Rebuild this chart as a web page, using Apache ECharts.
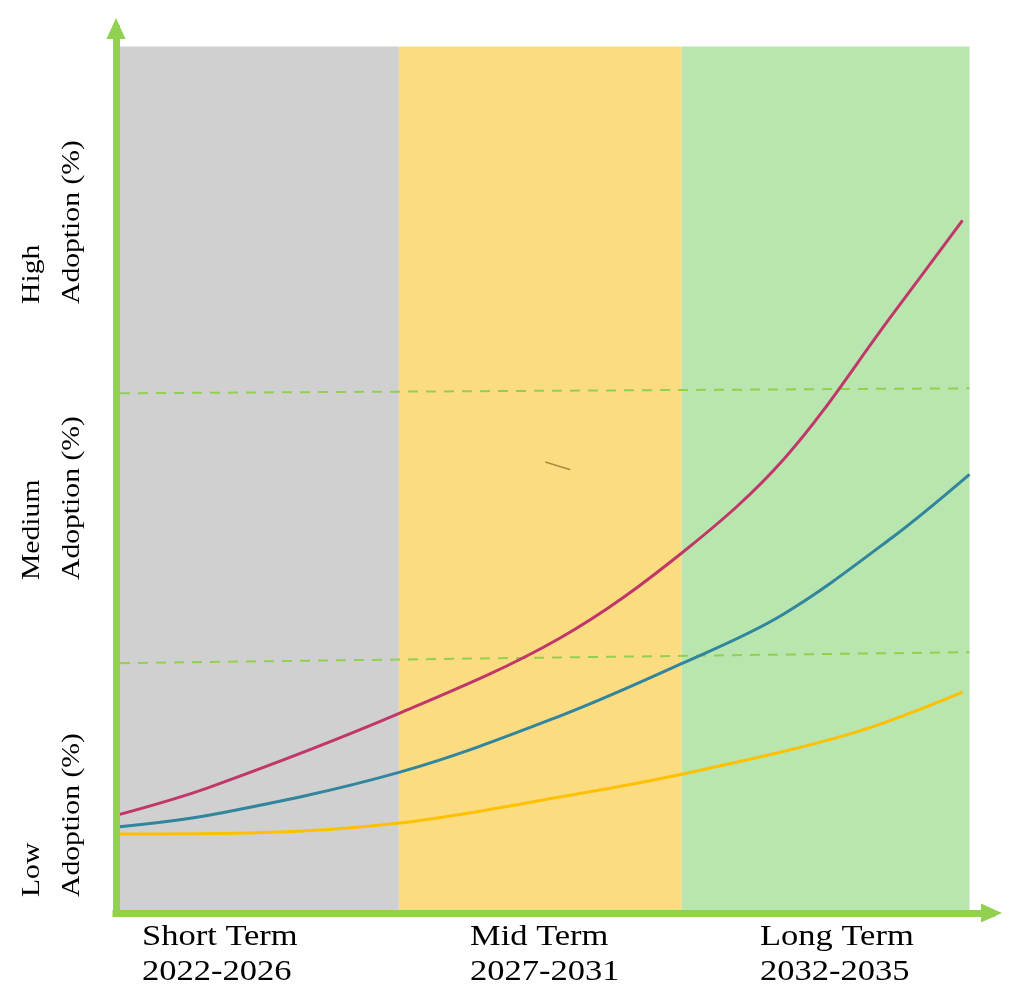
<!DOCTYPE html>
<html>
<head>
<meta charset="utf-8">
<script src="https://cdn.jsdelivr.net/npm/echarts@6/dist/echarts.min.js"></script>
<style>
html,body{margin:0;padding:0;background:#fff;}
#chart{width:1024px;height:1008px;}
</style>
</head>
<body>
<div id="chart"></div>
<script>
// ---- data (x: 0-100 timeline across the three terms, y: adoption level 0-100) ----
var termLabels = ['Short Term\n2022-2026', 'Mid Term\n2027-2031', 'Long Term\n2032-2035'];
var adoptionLabels = ['Low\nAdoption (%)', 'Medium\nAdoption (%)', 'High\nAdoption (%)'];
var termEdges = [0, 32.31, 64.61, 97.49];
var bandTop = 97.97;

var highX = [0.11, 10.73, 32.42, 50.68, 64.73, 76.37, 88.70, 96.69];
var highY = [11.07, 14.24, 22.60, 31.07, 40.79, 51.41, 67.68, 78.31];

var midX = [0.11, 10.73, 32.42, 50.68, 64.73, 76.03, 88.70, 97.49];
var midY = [9.72, 11.07, 15.93, 22.26, 28.25, 33.67, 42.49, 49.60];

var lowX = [0.11, 15.30, 32.42, 50.68, 64.73, 84.13, 96.69];
var lowY = [8.93, 9.04, 10.17, 13.11, 15.71, 20.34, 24.97];

var upperThresholdX = [0.46, 97.49];
var upperThresholdY = [58.76, 59.32];
var lowerThresholdX = [0.46, 97.49];
var lowerThresholdY = [28.25, 29.49];

var strayX = [49.04, 51.89];
var strayY = [50.99, 50.12];

function pairs(xs, ys) { return xs.map(function (x, i) { return [x, ys[i]]; }); }

var bandColors = ['#d0d0d0', '#fcdc80', '#b9e5ae'];
var GREEN = '#92d050';
var SERIF = '"Liberation Serif", "Times New Roman", serif';

var chart = echarts.init(document.getElementById('chart'), null, {renderer: 'canvas'});

var areas = [];
for (var i = 0; i < 3; i++) {
  areas.push([
    {xAxis: termEdges[i], yAxis: 0, itemStyle: {color: bandColors[i], opacity: 1}},
    {xAxis: termEdges[i + 1], yAxis: bandTop}
  ]);
}

var axisCommon = {
  type: 'value', min: 0, max: 100, z: 10,
  axisLine: {show: true, symbol: ['none', 'triangle'], symbolSize: [19, 21],
    lineStyle: {color: GREEN, width: 7, cap: 'square'}},
  axisTick: {show: false}, axisLabel: {show: false}, splitLine: {show: false}
};

var graphics = [];
var xLabelLeft = [142, 470, 760];
termLabels.forEach(function (t, i) {
  graphics.push({type: 'text', x: xLabelLeft[i], y: 920, scaleX: 1.15, z: 20,
    style: {text: t, font: '30px ' + SERIF, fill: '#000', lineHeight: 35, textAlign: 'left', textVerticalAlign: 'top'}});
});
var yLabelBottom = [897, 580, 304];
adoptionLabels.forEach(function (t, i) {
  graphics.push({type: 'text', x: 12, y: yLabelBottom[i], rotation: Math.PI / 2, scaleX: 1.14, z: 20,
    style: {text: t, font: '26px ' + SERIF, fill: '#000', lineHeight: 40, textAlign: 'left', textVerticalAlign: 'top'}});
});

var option = {
  backgroundColor: '#ffffff',
  animation: false,
  grid: {left: 116, right: 32.5, top: 28.5, bottom: 95, outerBoundsMode: 'none', containLabel: false},
  xAxis: axisCommon,
  yAxis: echarts.util.merge({}, axisCommon),
  graphic: graphics,
  series: [
    {type: 'line', name: 'bands', data: [], silent: true, z: 1,
      markArea: {silent: true, z: 1, data: areas}},
    {type: 'line', name: 'upper', data: pairs(upperThresholdX, upperThresholdY), symbol: 'none', z: 3,
      lineStyle: {color: GREEN, width: 2, type: [10, 8]}},
    {type: 'line', name: 'lower', data: pairs(lowerThresholdX, lowerThresholdY), symbol: 'none', z: 3,
      lineStyle: {color: GREEN, width: 2, type: [10, 8]}},
    {type: 'line', name: 'Low', data: pairs(lowX, lowY), symbol: 'none', smooth: 0.35, z: 4,
      lineStyle: {color: '#ffc000', width: 3}},
    {type: 'line', name: 'Medium', data: pairs(midX, midY), symbol: 'none', smooth: 0.35, z: 4,
      lineStyle: {color: '#31859c', width: 3}},
    {type: 'line', name: 'High', data: pairs(highX, highY), symbol: 'none', smooth: 0.35, z: 4,
      lineStyle: {color: '#c0386a', width: 3}},
    {type: 'line', name: 'stray', data: pairs(strayX, strayY), symbol: 'none', z: 4,
      lineStyle: {color: '#b08a3a', width: 1.5}}
  ]
};
chart.setOption(option);
</script>
</body>
</html>
